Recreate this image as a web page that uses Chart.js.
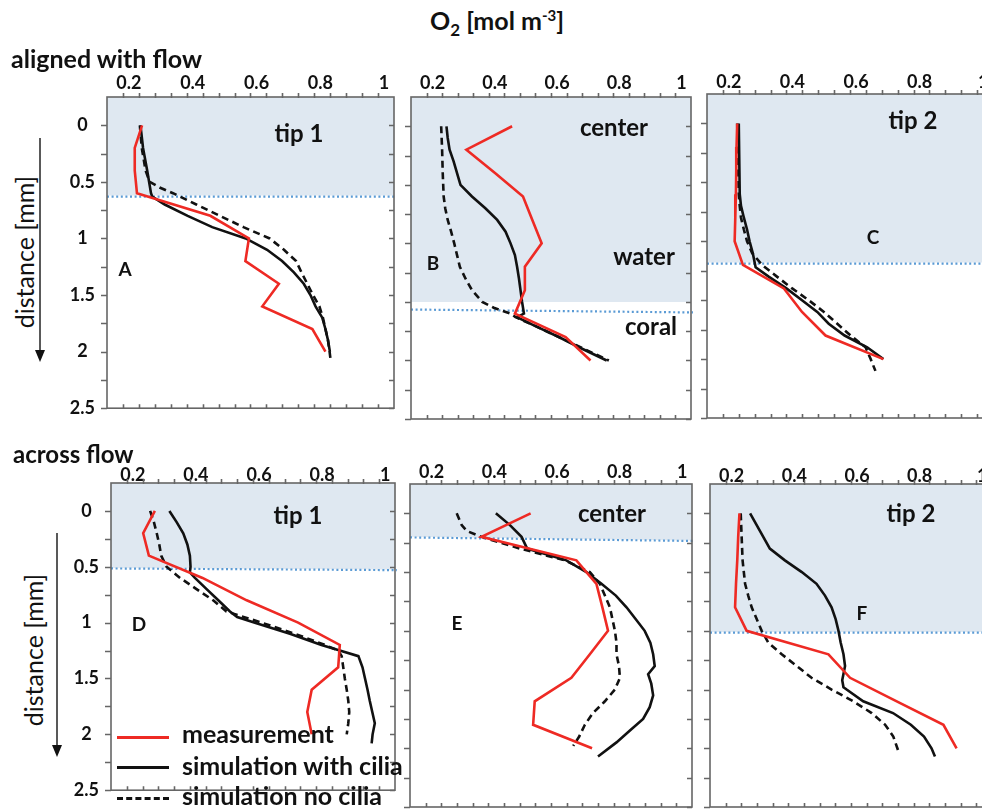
<!DOCTYPE html>
<html>
<head>
<meta charset="utf-8">
<script src="https://cdn.jsdelivr.net/npm/chart.js@4.4.0/dist/chart.umd.min.js"></script>
<style>
  body { margin: 0; background: #fff; }
  #page { position: relative; width: 982px; height: 812px; overflow: hidden; font-family: Lato, "Open Sans", sans-serif; color: #111; }
  .panel { position: absolute; }
  .t { position: absolute; white-space: nowrap; font-weight: bold; line-height: 1; transform: translate(-50%, -50%); }
  .big { font-size: 24px; }
  .tag { font-size: 19px; }
  .leg { position: absolute; left: 182px; font-size: 25px; font-weight: bold; line-height: 1; white-space: nowrap; transform: translateY(-50%); }
  .sample { position: absolute; left: 117px; width: 52px; height: 0; }
</style>
</head>
<body>
<div id="page">
  <div id="pA" class="panel"></div>
  <div id="pB" class="panel"></div>
  <div id="pC" class="panel"></div>
  <div id="pD" class="panel"></div>
  <div id="pE" class="panel"></div>
  <div id="pF" class="panel"></div>

  <div class="t" style="left:497px;top:23px;font-size:25px;">O<sub style="font-size:17px;">2</sub> [mol m<sup style="font-size:15px;">-3</sup>]</div>
  <div class="t" style="left:11px;top:58px;font-size:25px;transform:translateY(-50%);">aligned with flow</div>
  <div class="t" style="left:13px;top:454px;font-size:24px;transform:translateY(-50%);">across flow</div>

  <div class="t" style="left:24px;top:252px;font-size:25px;font-weight:normal;transform:translate(-50%,-50%) rotate(-90deg);">distance [mm]</div>
  <div class="t" style="left:33px;top:650px;font-size:25px;font-weight:normal;transform:translate(-50%,-50%) rotate(-90deg);">distance [mm]</div>
  <svg style="position:absolute;left:0;top:0;" width="982" height="812">
    <line x1="40" y1="138" x2="40" y2="352" stroke="#222" stroke-width="1.5"/>
    <polygon points="35,350 45,350 40,362" fill="#111"/>
    <line x1="57" y1="533" x2="57" y2="747" stroke="#222" stroke-width="1.5"/>
    <polygon points="52,745 62,745 57,757" fill="#111"/>
  </svg>

  <div class="t big" style="left:299px;top:133px;">tip 1</div>
  <div class="t tag" style="left:125px;top:268px;">A</div>
  <div class="t big" style="left:614px;top:127px;">center</div>
  <div class="t big" style="left:644px;top:256px;">water</div>
  <div class="t big" style="left:651px;top:326px;">coral</div>
  <div class="t tag" style="left:433px;top:262px;">B</div>
  <div class="t big" style="left:913px;top:120px;">tip 2</div>
  <div class="t tag" style="left:873px;top:236px;">C</div>
  <div class="t big" style="left:298px;top:515px;">tip 1</div>
  <div class="t tag" style="left:139px;top:623px;">D</div>
  <div class="t big" style="left:612px;top:513px;">center</div>
  <div class="t tag" style="left:457px;top:622px;">E</div>
  <div class="t big" style="left:911px;top:513px;">tip 2</div>
  <div class="t tag" style="left:862px;top:612px;">F</div>

  <div class="sample" style="top:736px;border-top:3px solid #ee2a24;"></div>
  <div class="sample" style="top:766px;border-top:3px solid #111;"></div>
  <div class="sample" style="top:797px;border-top:3px dashed #111;"></div>
  <div class="leg" style="top:733px;">measurement</div>
  <div class="leg" style="top:765px;">simulation with cilia</div>
  <div class="leg" style="top:795px;">simulation no cilia</div>
</div>

<script>
'use strict';

// ************ tick labels ************
let xTickLabels = ['0.2', '0.4', '0.6', '0.8', '1'];
let yTickLabels = ['0', '0.5', '1', '1.5', '2', '2.5'];

// ************ measurement (red), every 0.2 mm ************
let measDepth = [0, 0.2, 0.4, 0.6, 0.8, 1.0, 1.2, 1.4, 1.6, 1.8, 2.0];
let measA = [0.26, 0.237, 0.237, 0.244, 0.474, 0.595, 0.584, 0.689, 0.637, 0.794, 0.835];
let measB = [0.475, 0.328, 0.42, 0.51, 0.54, 0.57, 0.516, 0.516, 0.484, 0.647, 0.727];
let measC = [0.245, 0.243, 0.242, 0.241, 0.239, 0.237, 0.263, 0.392, 0.449, 0.523, 0.705];
let measD = [0.289, 0.252, 0.27, 0.44, 0.58, 0.743, 0.875, 0.87, 0.786, 0.772, 0.786];
let measE = [0.535, 0.378, 0.681, 0.745, 0.764, 0.782, 0.724, 0.665, 0.548, 0.543, 0.731];
let measF = [0.244, 0.24, 0.237, 0.233, 0.23, 0.267, 0.528, 0.597, 0.746, 0.895, 0.937];

// ************ simulation with cilia (solid black) ************
let cilA_d = [0, 0.2, 0.4, 0.6, 0.63, 0.7, 0.8, 0.9, 1.0, 1.1, 1.2, 1.3, 1.4, 1.5, 1.6, 1.7, 1.8, 1.9, 2.0];
let cilA = [0.255, 0.263, 0.276, 0.288, 0.292, 0.331, 0.403, 0.48, 0.585, 0.652, 0.699, 0.736, 0.767, 0.788, 0.804, 0.825, 0.835, 0.843, 0.849];
let cilB_d = [0, 0.1, 0.2, 0.3, 0.4, 0.5, 0.6, 0.7, 0.8, 0.9, 1.0, 1.1, 1.2, 1.3, 1.4, 1.5, 1.6, 1.63, 1.7, 1.8, 1.9, 2.0];
let cilB = [0.264, 0.268, 0.274, 0.287, 0.298, 0.309, 0.346, 0.389, 0.427, 0.454, 0.47, 0.484, 0.491, 0.497, 0.502, 0.507, 0.513, 0.491, 0.545, 0.625, 0.7, 0.779];
let cilC_d = [0, 0.6, 0.7, 0.8, 0.9, 1.0, 1.1, 1.22, 1.3, 1.4, 1.5, 1.6, 1.7, 1.8, 1.9, 2.0];
let cilC = [0.25, 0.253, 0.257, 0.266, 0.276, 0.284, 0.294, 0.303, 0.344, 0.4, 0.449, 0.497, 0.533, 0.583, 0.654, 0.705];
let cilD_d = [0, 0.1, 0.2, 0.3, 0.4, 0.5, 0.55, 0.6, 0.7, 0.8, 0.9, 0.95, 1.0, 1.1, 1.2, 1.25, 1.3, 1.4, 1.5, 1.6, 1.7, 1.8, 1.9, 2.0, 2.08];
let cilD = [0.335, 0.358, 0.379, 0.392, 0.4, 0.402, 0.4, 0.416, 0.453, 0.49, 0.527, 0.55, 0.606, 0.717, 0.817, 0.875, 0.934, 0.947, 0.955, 0.963, 0.97, 0.978, 0.986, 0.979, 0.976];
let cilE_d = [0, 0.1, 0.2, 0.3, 0.4, 0.5, 0.6, 0.7, 0.8, 0.9, 1.0, 1.1, 1.2, 1.3, 1.37, 1.45, 1.55, 1.65, 1.75, 1.85, 1.95, 2.07];
let cilE = [0.424, 0.469, 0.506, 0.524, 0.649, 0.713, 0.761, 0.807, 0.841, 0.87, 0.899, 0.917, 0.926, 0.931, 0.91, 0.92, 0.926, 0.915, 0.894, 0.851, 0.809, 0.75];
let cilF_d = [0, 0.1, 0.2, 0.3, 0.4, 0.5, 0.6, 0.7, 0.8, 0.9, 1.0, 1.1, 1.2, 1.3, 1.42, 1.48, 1.5, 1.6, 1.7, 1.8, 1.9, 2.0, 2.07];
let cilF = [0.278, 0.299, 0.32, 0.341, 0.389, 0.443, 0.49, 0.517, 0.538, 0.551, 0.56, 0.567, 0.576, 0.581, 0.572, 0.576, 0.586, 0.639, 0.734, 0.791, 0.833, 0.857, 0.868];

// ************ simulation no cilia (dashed black) ************
let noA_d = [0, 0.2, 0.4, 0.5, 0.55, 0.6, 0.7, 0.8, 0.9, 1.0, 1.1, 1.2, 1.3, 1.4, 1.5, 1.6, 1.7, 1.8, 1.9, 2.0, 2.07];
let noA = [0.253, 0.259, 0.271, 0.284, 0.315, 0.357, 0.43, 0.504, 0.578, 0.66, 0.705, 0.743, 0.76, 0.778, 0.796, 0.816, 0.827, 0.835, 0.843, 0.848, 0.851];
let noB_d = [0, 0.2, 0.4, 0.6, 0.7, 0.8, 0.9, 1.0, 1.1, 1.2, 1.3, 1.4, 1.5, 1.55, 1.6, 1.63, 1.7, 1.8, 1.9, 2.0];
let noB = [0.247, 0.25, 0.252, 0.255, 0.26, 0.268, 0.279, 0.289, 0.298, 0.307, 0.325, 0.346, 0.379, 0.416, 0.47, 0.486, 0.545, 0.625, 0.705, 0.786];
let noC_d = [0, 0.6, 0.7, 0.8, 0.9, 1.0, 1.1, 1.2, 1.3, 1.4, 1.5, 1.6, 1.7, 1.8, 1.9, 2.0, 2.1];
let noC = [0.245, 0.25, 0.253, 0.257, 0.266, 0.276, 0.292, 0.323, 0.37, 0.418, 0.47, 0.518, 0.56, 0.602, 0.649, 0.665, 0.68];
let noD_d = [0, 0.1, 0.2, 0.3, 0.4, 0.5, 0.6, 0.7, 0.8, 0.9, 1.0, 1.1, 1.2, 1.25, 1.3, 1.4, 1.5, 1.6, 1.7, 1.8, 1.9, 2.0];
let noD = [0.274, 0.286, 0.295, 0.303, 0.309, 0.326, 0.369, 0.421, 0.474, 0.516, 0.627, 0.733, 0.828, 0.87, 0.881, 0.886, 0.891, 0.897, 0.902, 0.905, 0.902, 0.897];
let noE_d = [0, 0.1, 0.15, 0.2, 0.3, 0.4, 0.5, 0.6, 0.7, 0.8, 0.9, 1.0, 1.1, 1.2, 1.3, 1.4, 1.5, 1.6, 1.7, 1.8, 1.9, 1.98];
let noE = [0.299, 0.315, 0.331, 0.378, 0.501, 0.644, 0.724, 0.756, 0.772, 0.788, 0.796, 0.804, 0.809, 0.809, 0.817, 0.82, 0.804, 0.772, 0.734, 0.708, 0.69, 0.671];
let noF_d = [0, 0.2, 0.4, 0.6, 0.7, 0.8, 0.9, 1.0, 1.1, 1.2, 1.3, 1.4, 1.5, 1.6, 1.7, 1.8, 1.9, 2.0, 2.04];
let noF = [0.248, 0.251, 0.254, 0.262, 0.272, 0.283, 0.299, 0.315, 0.336, 0.379, 0.427, 0.474, 0.538, 0.607, 0.666, 0.709, 0.735, 0.748, 0.753];

// water / coral boundary depth (mm): left end, right end; bottom of the shaded water
let waterLeft = [0.63, 1.565, 1.19, 0.515, 0.205, 1.015];
let waterRight = [0.63, 1.59, 1.19, 0.53, 0.235, 1.015];
let shadeLeft = [0.62, 1.5, 1.18, 0.51, 0.2, 1.01];
let shadeRight = [0.62, 1.5, 1.18, 0.525, 0.23, 1.01];


// ************ drawing ************

function pts(depths, values) {
  return depths.map((d, i) => ({ x: values[i], y: d }));
}

function isLabel(labels, v) {
  return labels.find(l => Math.abs(parseFloat(l) - v) < 1e-6);
}

let deco = {
  id: 'deco',
  beforeDatasetsDraw(chart, args, opts) {
    let { ctx, chartArea: a, scales: { y } } = chart;
    ctx.save();
    ctx.fillStyle = '#dfe8f1';
    ctx.beginPath();
    ctx.moveTo(a.left, a.top);
    ctx.lineTo(a.right, a.top);
    ctx.lineTo(a.right, y.getPixelForValue(opts.shadeR));
    ctx.lineTo(a.left, y.getPixelForValue(opts.shadeL));
    ctx.closePath();
    ctx.fill();

    ctx.strokeStyle = '#5b9bd5';
    ctx.lineWidth = 2.2;
    ctx.setLineDash([2, 2.6]);
    ctx.beginPath();
    ctx.moveTo(a.left, y.getPixelForValue(opts.lineL));
    ctx.lineTo(a.right + 2, y.getPixelForValue(opts.lineR));
    ctx.stroke();
    ctx.restore();
  },
  afterDraw(chart) {
    let { ctx, chartArea: a, scales: { x, y } } = chart;
    ctx.save();
    ctx.strokeStyle = '#666';
    ctx.lineWidth = 1.6;
    ctx.strokeRect(a.left, a.top, a.right - a.left, a.bottom - a.top);
    ctx.beginPath();
    for (let v = 0.2; v < 1.049; v += 0.05) {
      let px = Math.round(x.getPixelForValue(v)) + 0.5;
      ctx.moveTo(px, a.top - 4); ctx.lineTo(px, a.top + 1);
      ctx.moveTo(px, a.bottom); ctx.lineTo(px, a.bottom - 4);
    }
    for (let d = 0; d <= 2.5; d += 0.25) {
      let py = Math.round(y.getPixelForValue(d)) + 0.5;
      ctx.moveTo(a.left - 6, py); ctx.lineTo(a.left, py);
      ctx.moveTo(a.right, py); ctx.lineTo(a.right - 5, py);
    }
    ctx.stroke();
    ctx.restore();
  }
};

function makePanel(id, box, meas, cil, cilD, no, noD, k, showY, labelPad) {
  let padL = showY ? 46 : 10, padT = 40, padR = 8, padB = 8;
  let wrap = document.getElementById(id);
  wrap.style.left = (box[0] - padL) + 'px';
  wrap.style.top = (box[1] - padT) + 'px';
  let canvas = document.createElement('canvas');
  canvas.width = box[2] + padL + padR;
  canvas.height = box[3] + padT + padB;
  wrap.appendChild(canvas);

  new Chart(canvas, {
    type: 'scatter',
    data: {
      datasets: [{
        label: 'measurement',
        data: pts(measDepth, meas),
        borderColor: '#ee2a24',
        borderWidth: 2.6
      }, {
        label: 'simulation with cilia',
        data: pts(cilD, cil),
        borderColor: '#111',
        borderWidth: 2.6
      }, {
        label: 'simulation no cilia',
        data: pts(noD, no),
        borderColor: '#111',
        borderWidth: 2.6,
        borderDash: [7, 4.5]
      }]
    },
    options: {
      responsive: false,
      animation: false,
      showLine: true,
      elements: { point: { radius: 0 }, line: { tension: 0, fill: false } },
      layout: { padding: { left: 0, top: 0, right: padR, bottom: padB } },
      plugins: {
        legend: { display: false },
        tooltip: { enabled: false },
        deco: { shadeL: shadeLeft[k], shadeR: shadeRight[k], lineL: waterLeft[k], lineR: waterRight[k] }
      },
      scales: {
        x: {
          type: 'linear',
          position: 'top',
          min: 0.15,
          max: 1.05,
          grid: { display: false, drawTicks: false },
          border: { display: false },
          afterFit: s => { s.height = padT; },
          ticks: {
            stepSize: 0.05,
            autoSkip: false,
            maxRotation: 0,
            padding: labelPad,
            labelOffset: 6,
            color: '#111',
            font: { family: 'Lato', size: 18, weight: 'bold' },
            callback: v => isLabel(xTickLabels, v) || ''
          }
        },
        y: {
          type: 'linear',
          reverse: true,
          min: -0.25,
          max: 2.5,
          grid: { display: false, drawTicks: false },
          border: { display: false },
          afterFit: s => { s.width = padL; },
          ticks: {
            display: showY,
            stepSize: 0.25,
            autoSkip: false,
            padding: 12,
            crossAlign: 'center',
            color: '#111',
            font: { family: 'Lato', size: 18, weight: 'bold' },
            callback: v => (v >= 0 && isLabel(yTickLabels, v)) || ''
          }
        }
      }
    },
    plugins: [deco]
  });
}

makePanel('pA', [107, 97, 287, 326], measA, cilA, cilA_d, noA, noA_d, 0, true, 3);
makePanel('pB', [411, 97, 280, 322], measB, cilB, cilB_d, noB, noB_d, 1, false, 3);
makePanel('pC', [707, 94, 286, 324], measC, cilC, cilC_d, noC, noC_d, 2, false, 1);
makePanel('pD', [111, 483, 284, 322], measD, cilD, cilD_d, noD, noD_d, 3, true, -3);
makePanel('pE', [410, 484, 282, 323], measE, cilE, cilE_d, noE, noE_d, 4, false, 1);
makePanel('pF', [710, 484, 282, 323], measF, cilF, cilF_d, noF, noF_d, 5, false, -3);
</script>
</body>
</html>
